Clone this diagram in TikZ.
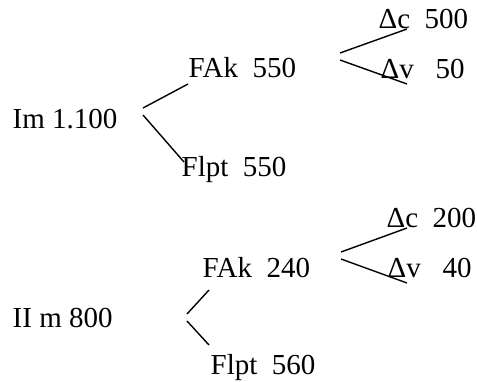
\documentclass[tikz,border=0pt]{standalone}
\usepackage{fontspec}
\setmainfont{Liberation Serif}
\usetikzlibrary{calc}

\begin{document}
\begin{tikzpicture}[x=1pt, y=-1pt, line width=1.4pt]
        \tikzset{lbl/.style={anchor=base west, inner sep=0pt, font=\fontsize{29}{30}\selectfont}}
        \useasboundingbox (0,0) rectangle (477,381);

        % first tree
        \node[lbl] (im) at (12,128) {Im 1.100};
        \node[lbl] (fakA) at (188,77) {FAk\ \ 550};
        \node[lbl] (flptA) at (181,176) {Flpt\ \ 550};
        \node[lbl] (dcA) at (378,28) {Δc\ \ 500};
        \node[lbl] (dvA) at (380,78) {Δv\ \ \ 50};

        \coordinate (A1) at (143,108);
        \coordinate (A2) at (188,84);
        \coordinate (A3) at (143,115);
        \coordinate (A4) at (184,162);
        \coordinate (A5) at (340,53);
        \coordinate (A6) at (407,29);
        \coordinate (A7) at (340,60);
        \coordinate (A8) at (407,84);
        \draw (A1) -- (A2);
        \draw (A3) -- (A4);
        \draw (A5) -- (A6);
        \draw (A7) -- (A8);

        % second tree
        \node[lbl] (iim) at (12,327) {II m 800};
        \node[lbl] (fakB) at (202,277) {FAk\ \ 240};
        \node[lbl] (flptB) at (210,374) {Flpt\ \ 560};
        \node[lbl] (dcB) at (386,227) {Δc\ \ 200};
        \node[lbl] (dvB) at (387,277) {Δv\ \ \ 40};

        \coordinate (B1) at (209,290);
        \coordinate (B2) at (187,314);
        \coordinate (B3) at (187,321);
        \coordinate (B4) at (209,345);
        \coordinate (B5) at (341,252);
        \coordinate (B6) at (407,228);
        \coordinate (B7) at (341,259);
        \coordinate (B8) at (407,283);
        \draw (B1) -- (B2);
        \draw (B3) -- (B4);
        \draw (B5) -- (B6);
        \draw (B7) -- (B8);

    \end{tikzpicture}
\end{document}
